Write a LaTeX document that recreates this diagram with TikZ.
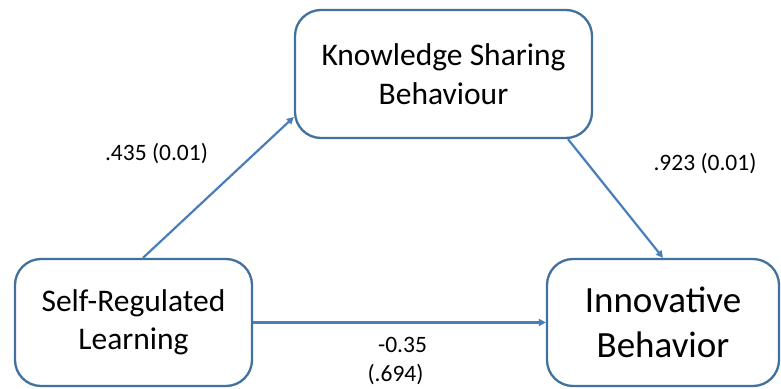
\documentclass[tikz,border=0pt]{standalone}
\usepackage{fontspec}
\setmainfont{Carlito}
\usetikzlibrary{arrows.meta}
\definecolor{boxline}{HTML}{41719C}
\definecolor{arrowline}{HTML}{4A7EBB}
\tikzset{
  box/.style={draw=boxline, line width=2.3pt, rounded corners=26pt, fill=white,
    align=center, inner sep=0pt},
  link/.style={draw=arrowline, line width=2.2pt,
    -{Triangle[length=7pt,width=7pt]}},
  coef/.style={font=\fontsize{23.5}{28}\selectfont, inner sep=0pt},
}
\begin{document}
\begin{tikzpicture}[x=1pt, y=-1pt]
  \useasboundingbox (0,0) rectangle (781,388);
  % the three constructs
  \node[box, minimum width=297pt, minimum height=128pt,
        font=\fontsize{31.5}{38.5}\selectfont] (ksb) at (443.5,74)
        {Knowledge Sharing\\Behaviour};
  \node[box, minimum width=237pt, minimum height=127pt,
        font=\fontsize{31.5}{38.5}\selectfont] (srl) at (133.5,322.5)
        {Self-Regulated\\Learning};
  \node[box, minimum width=232pt, minimum height=127pt,
        font=\fontsize{37}{45}\selectfont] (ib) at (663,322.5)
        {Innovative\\Behavior};
  % paths between them
  \draw[link] ([xshift=9.5pt]srl.north) -- ([yshift=-43pt]ksb.west);
  \draw[link] ([xshift=124.5pt]ksb.south) -- (ib.north);
  \draw[link] (srl.east) -- (ib.west);
  % path coefficients
  \node[coef] (a) at (156.5,154) {.435 (0.01)};
  \node[coef] (b) at (705,164) {.923 (0.01)};
  \node[coef] (c1) at (402.5,345) {-0.35};
  \node[coef] (c2) at (395.5,375) {(.694)};
\end{tikzpicture}
\end{document}
